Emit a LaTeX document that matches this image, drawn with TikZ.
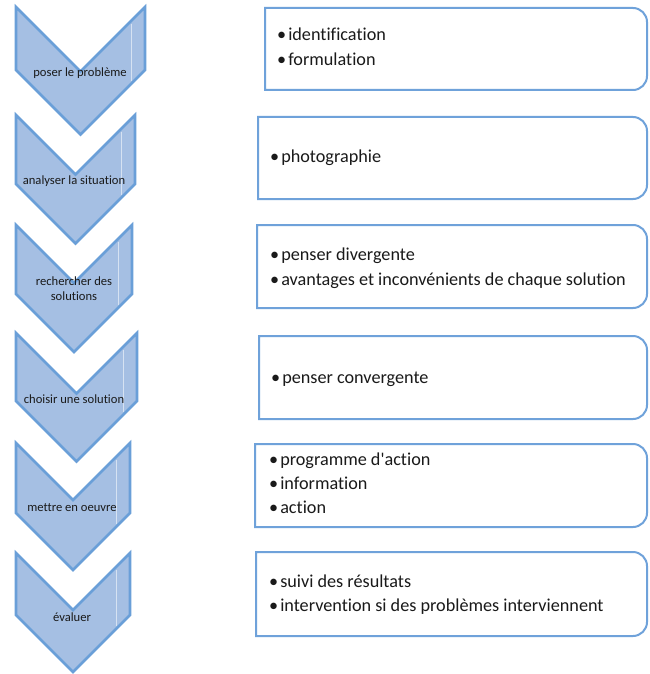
\documentclass[tikz,border=0pt]{standalone}
\usepackage{fontspec}
\newfontfamily\calfont{Carlito}[Ligatures=NoCommon]
\definecolor{chevfill}{HTML}{A5BFE3}
\definecolor{chevline}{HTML}{6A9FD8}
\definecolor{boxline}{HTML}{6FA2DA}
\definecolor{txt}{HTML}{1A1A1A}
\begin{document}
\begin{tikzpicture}[x=1pt,y=-1pt,
  chev/.style={fill=chevfill, draw=chevline, line width=2.6pt, line join=miter},
  gleam/.style={draw=white, opacity=0.55, line width=0.9pt},
  panel/.style={draw=boxline, line width=2pt, fill=white},
  chevtext/.style={inner sep=0pt, text=txt, align=center, font=\calfont\fontsize{12.6}{15}\selectfont},
  item/.style={inner sep=0pt, anchor=west, text=txt, text height=1ex, text depth=0pt, font=\calfont\fontsize{18.2}{22}\selectfont}]
\useasboundingbox (0,0) rectangle (649,674);
\fill[white] (0,0) rectangle (649,674);
% chevrons: top / right edge / side length
\foreach \T/\R/\s in {7/145/63, 115/135/69, 225/132/69, 333/137/68, 443/130/70, 553/130/62}{
  \pgfmathsetmacro{\c}{(16+\R)/2}
  \pgfmathsetmacro{\h}{(\R-16)/2}
  \draw[chev] (16,\T) -- (\c,{\T+\h}) -- (\R,\T) -- (\R,{\T+\s}) -- (\c,{\T+\s+\h}) -- (16,{\T+\s}) -- cycle;
  \draw[gleam] ({\R-14},{\T+17}) -- ({\R-14},{\T+\s+11});
}
\node[chevtext] (c1) at (80,73) {poser le problème};
\node[chevtext] (c2) at (74,181) {analyser la situation};
\node[chevtext] (c3) at (74,289) {rechercher des\\solutions};
\node[chevtext] (c4) at (74,399) {choisir une solution};
\node[chevtext] (c5) at (72,508) {mettre en oeuvre};
\node[chevtext] (c6) at (72,617) {évaluer};
% panels: left / top / bottom
\foreach \L/\T/\B in {265/8/90, 258/117/199, 257/225/308, 259/336/419, 255/444/527, 256/552/636}{
  \draw[panel] (\L,\T) -- (633,\T) .. controls (640.7,\T) and (647,{\T+6.3}) .. (647,{\T+14})
     -- (647,{\B-14}) .. controls (647,{\B-6.3}) and (640.7,\B) .. (633,\B) -- (\L,\B) -- cycle;
}
\node[item] (b1a) at (277,38) {•\hspace{2pt}identification};
\node[item] (b1b) at (277,63) {•\hspace{2pt}formulation};
\node[item] (b2a) at (270,160) {•\hspace{2pt}photographie};
\node[item] (b3a) at (270,258) {•\hspace{2pt}penser divergente};
\node[item] (b3b) at (270,283) {•\hspace{2pt}avantages et inconvénients de chaque solution};
\node[item] (b4a) at (271,381) {•\hspace{2pt}penser convergente};
\node[item] (b5a) at (269,463) {•\hspace{2pt}programme d'action};
\node[item] (b5b) at (269,487) {•\hspace{2pt}information};
\node[item] (b5c) at (269,511) {•\hspace{2pt}action};
\node[item] (b6a) at (269,585) {•\hspace{2pt}suivi des résultats};
\node[item] (b6b) at (269,609) {•\hspace{2pt}intervention si des problèmes interviennent};
\end{tikzpicture}
\end{document}
